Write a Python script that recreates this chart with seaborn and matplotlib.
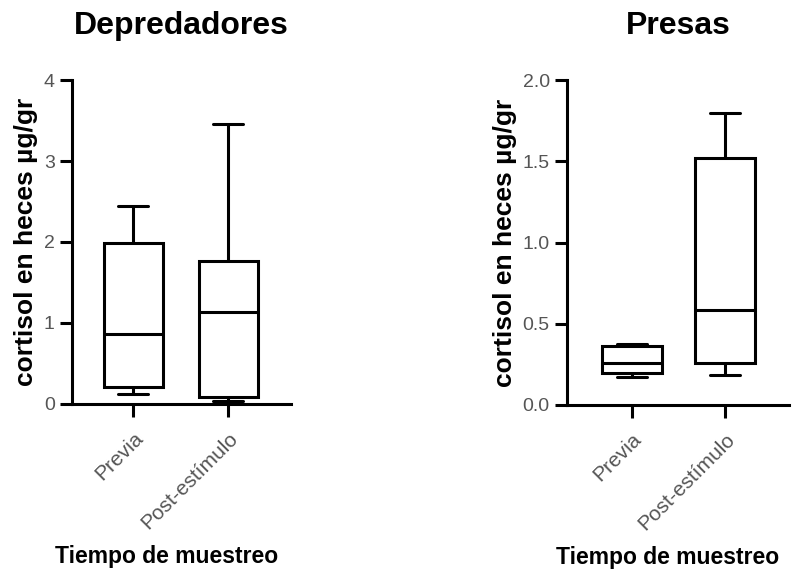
import pandas as pd
import matplotlib
matplotlib.use("Agg")
import matplotlib.pyplot as plt
import seaborn as sns

# five-number summaries: min, Q1, median, Q3, max
groups = ["Previa", "Post-estímulo"]
dep_previa = [0.12, 0.21, 0.86, 1.99, 2.45]
dep_post = [0.03, 0.08, 1.13, 1.76, 3.46]
pre_previa = [0.174, 0.195, 0.26, 0.36, 0.375]
pre_post = [0.185, 0.257, 0.585, 1.52, 1.80]

dep_ticks = [0, 1, 2, 3, 4]
pre_ticks = [0.0, 0.5, 1.0, 1.5, 2.0]


def long_form(previa, post):
    rows = [(groups[0], v) for v in previa] + [(groups[1], v) for v in post]
    return pd.DataFrame(rows, columns=["tiempo", "cortisol"])


sns.set_theme(style="ticks")
plt.rcParams["font.family"] = ["Liberation Sans", "DejaVu Sans"]
plt.rcParams["text.color"] = "black"
plt.rcParams["axes.labelcolor"] = "black"

fig = plt.figure(figsize=(8.09, 5.72), dpi=100)
ax1 = fig.add_axes([0.089, 0.294, 0.271, 0.566])
ax2 = fig.add_axes([0.701, 0.292, 0.274, 0.568])

panels = [
    (ax1, long_form(dep_previa, dep_post), "Depredadores", dep_ticks, "{:.0f}", 0.62, (-0.642, 1.663), 0.43),
    (ax2, long_form(pre_previa, pre_post), "Presas", pre_ticks, "{:.1f}", 0.65, (-0.70, 1.69), 0.453),
]

for ax, df, title, ticks, fmt, w, xlim, xl in panels:
    sns.boxplot(data=df, x="tiempo", y="cortisol", whis=(0, 100), width=w,
                color="white", linecolor="black", linewidth=2.2, ax=ax)
    ax.set_ylim(ticks[0], ticks[-1])
    ax.set_xlim(*xlim)
    ax.set_yticks(ticks)
    ax.set_yticklabels([fmt.format(t) for t in ticks])
    sns.despine(ax=ax)
    for s in ["left", "bottom"]:
        ax.spines[s].set_linewidth(2.2)
        ax.spines[s].set_color("black")
    ax.tick_params(axis="both", length=9, width=2.2, color="black",
                   labelsize=14, labelcolor="#555555")
    ax.tick_params(axis="x", labelsize=15, pad=9)
    plt.setp(ax.get_xticklabels(), rotation=45, ha="right", rotation_mode="anchor")
    ax.set_title(title, fontsize=23, fontweight="bold", pad=33)
    ax.set_ylabel("cortisol en heces µg/gr", fontsize=19, fontweight="bold")
    ax.set_xlabel("Tiempo de muestreo", fontsize=16.5, fontweight="bold")
    ax.xaxis.set_label_coords(xl, -0.435)

fig.savefig("out.png", dpi=100)
